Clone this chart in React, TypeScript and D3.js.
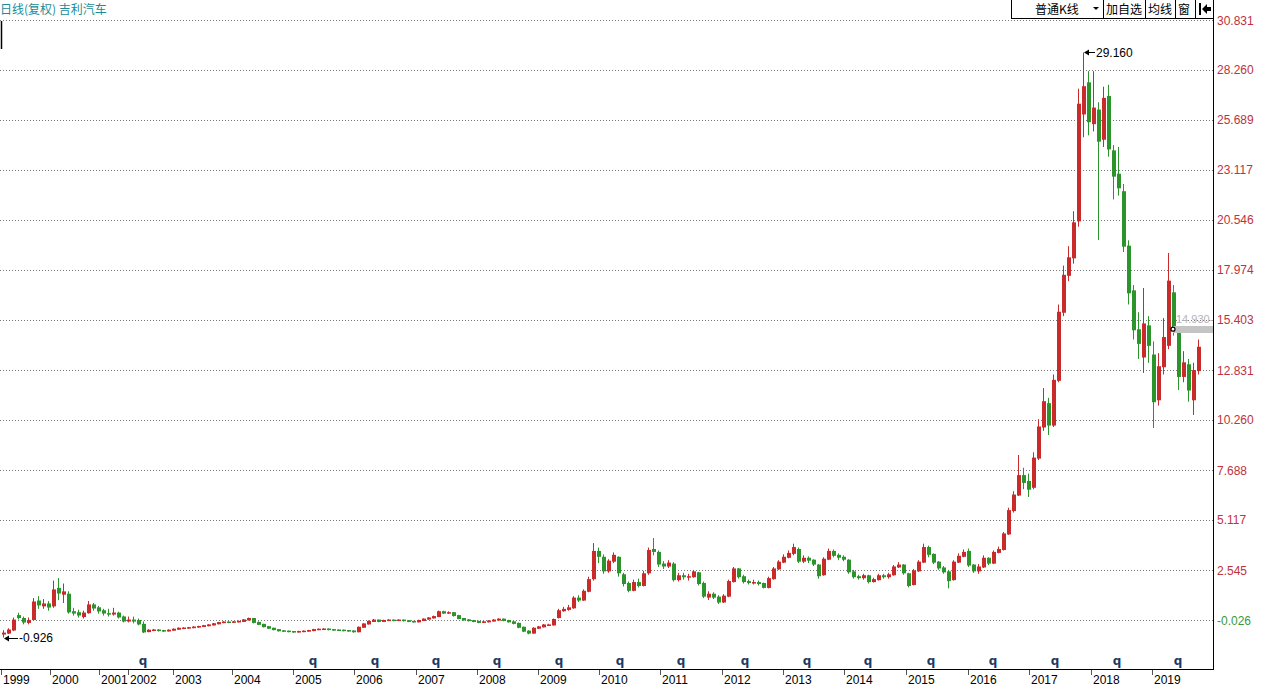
import React from 'react';
import * as d3 from 'd3';

type C = [number, number, number, number]; // open, high, low, close

// 1999 – early 2002
const candlesA: C[] = [
  [-0.75, -0.55, -0.926, -0.70], [-0.70, -0.45, -0.75, -0.54], [-0.54, 0.10, -0.60, -0.03], [0.20, 0.35, 0.00, 0.10],
  [0.05, 0.15, -0.25, -0.13], [-0.15, 0.10, -0.25, -0.05], [0.00, 1.10, -0.05, 0.90], [0.95, 1.20, 0.55, 0.75],
  [0.70, 1.05, 0.55, 0.80], [0.80, 0.95, 0.45, 0.64], [0.70, 2.00, 0.60, 1.52], [1.60, 2.13, 1.00, 1.36],
  [1.30, 1.85, 0.85, 1.42], [1.30, 1.45, 0.30, 0.39], [0.40, 0.60, 0.20, 0.33], [0.35, 0.50, 0.10, 0.23],
  [0.15, 0.45, 0.05, 0.33], [0.35, 0.95, 0.30, 0.75], [0.75, 0.85, 0.45, 0.59], [0.60, 0.70, 0.30, 0.44],
  [0.45, 0.55, 0.20, 0.33], [0.30, 0.55, 0.15, 0.28], [0.28, 0.60, 0.20, 0.33], [0.33, 0.40, 0.05, 0.13],
  [0.13, 0.20, -0.15, -0.08], [-0.08, 0.15, -0.15, -0.03], [-0.03, 0.15, -0.20, -0.08], [-0.05, 0.05, -0.30, -0.23],
  [-0.25, -0.10, -0.70, -0.64],
];

// 2002 – 2006
const candlesB: C[] = [
  [-0.62, -0.50, -0.66, -0.55], [-0.55, -0.49, -0.60, -0.54], [-0.54, -0.50, -0.62, -0.57], [-0.57, -0.53, -0.64, -0.59],
  [-0.59, -0.51, -0.62, -0.55], [-0.55, -0.46, -0.58, -0.50], [-0.50, -0.41, -0.53, -0.45], [-0.45, -0.40, -0.49, -0.44],
  [-0.44, -0.38, -0.47, -0.42], [-0.42, -0.35, -0.45, -0.39], [-0.39, -0.32, -0.42, -0.36], [-0.36, -0.28, -0.39, -0.32],
  [-0.32, -0.24, -0.35, -0.28], [-0.28, -0.18, -0.31, -0.22], [-0.22, -0.12, -0.25, -0.16], [-0.16, -0.09, -0.19, -0.13],
  [-0.13, -0.09, -0.19, -0.14], [-0.14, -0.08, -0.18, -0.12], [-0.12, -0.05, -0.15, -0.10], [-0.10, 0.02, -0.13, -0.02],
  [-0.02, 0.10, -0.05, 0.05], [0.05, 0.08, -0.20, -0.15], [-0.15, -0.10, -0.29, -0.25], [-0.25, -0.22, -0.41, -0.37],
  [-0.37, -0.34, -0.49, -0.45], [-0.45, -0.42, -0.56, -0.52], [-0.52, -0.49, -0.62, -0.58], [-0.58, -0.55, -0.64, -0.60],
  [-0.60, -0.57, -0.66, -0.62], [-0.62, -0.59, -0.68, -0.64], [-0.64, -0.58, -0.67, -0.62], [-0.62, -0.56, -0.65, -0.60],
  [-0.60, -0.53, -0.63, -0.57], [-0.57, -0.48, -0.60, -0.52], [-0.52, -0.46, -0.55, -0.50], [-0.50, -0.45, -0.53, -0.49],
  [-0.49, -0.46, -0.56, -0.52], [-0.52, -0.49, -0.58, -0.54], [-0.54, -0.51, -0.59, -0.55], [-0.55, -0.52, -0.61, -0.57],
  [-0.57, -0.54, -0.63, -0.59], [-0.59, -0.56, -0.68, -0.63],
];

// 2006 – 2009
const candlesC: C[] = [
  [-0.63, -0.36, -0.66, -0.40], [-0.40, -0.19, -0.43, -0.23], [-0.23, -0.05, -0.26, -0.10], [-0.10, 0.03, -0.13, -0.03],
  [-0.03, 0.00, -0.14, -0.10], [-0.10, -0.01, -0.13, -0.05], [-0.05, 0.02, -0.08, -0.03], [-0.03, 0.00, -0.09, -0.05],
  [-0.05, 0.01, -0.08, -0.03], [-0.03, 0.00, -0.10, -0.06], [-0.06, -0.03, -0.14, -0.10], [-0.10, -0.07, -0.16, -0.12],
  [-0.12, -0.01, -0.15, -0.05], [-0.05, 0.06, -0.08, 0.02], [0.02, 0.12, -0.01, 0.08], [0.08, 0.20, 0.05, 0.15],
  [0.15, 0.46, 0.12, 0.40], [0.40, 0.45, 0.28, 0.33], [0.33, 0.42, 0.29, 0.35], [0.35, 0.38, 0.15, 0.20],
  [0.20, 0.24, 0.01, 0.05], [0.05, 0.08, -0.06, -0.02], [-0.02, 0.02, -0.10, -0.06], [-0.06, -0.02, -0.14, -0.10],
  [-0.10, -0.06, -0.19, -0.15], [-0.15, -0.08, -0.18, -0.12], [-0.12, -0.04, -0.15, -0.08], [-0.08, 0.02, -0.11, -0.03],
  [-0.03, 0.06, -0.06, 0.02], [0.02, 0.05, -0.09, -0.05], [-0.05, -0.02, -0.16, -0.12], [-0.12, -0.09, -0.25, -0.20],
  [-0.20, -0.16, -0.45, -0.40], [-0.40, -0.36, -0.65, -0.60], [-0.60, -0.55, -0.76, -0.70], [-0.70, -0.40, -0.73, -0.45],
  [-0.45, -0.33, -0.48, -0.38], [-0.38, -0.24, -0.41, -0.28], [-0.28, -0.22, -0.33, -0.28], [-0.28, 0.05, -0.31, 0.00],
];

// 2009 – 2016
const candlesD: C[] = [
  [0.10, 0.55, 0.05, 0.45], [0.45, 0.65, 0.40, 0.52], [0.52, 0.75, 0.45, 0.60], [0.60, 1.20, 0.55, 1.10],
  [1.10, 1.25, 0.90, 1.00], [1.00, 1.55, 0.95, 1.45], [1.45, 2.20, 1.40, 2.05], [2.10, 3.93, 2.00, 3.50],
  [3.50, 3.70, 2.90, 3.25], [3.20, 3.35, 2.35, 2.50], [2.50, 3.10, 2.40, 3.00], [3.00, 3.45, 2.90, 3.30],
  [3.20, 3.25, 2.20, 2.40], [2.30, 2.40, 1.70, 1.85], [1.85, 1.95, 1.40, 1.50], [1.50, 2.05, 1.45, 1.90],
  [1.90, 2.10, 1.65, 1.75], [1.75, 2.50, 1.70, 2.35], [2.40, 3.70, 2.30, 3.55], [3.60, 4.19, 3.30, 3.50],
  [3.45, 3.55, 2.70, 2.85], [2.85, 3.00, 2.60, 2.75], [2.75, 3.05, 2.65, 2.90], [2.85, 2.95, 1.95, 2.05],
  [2.05, 2.40, 1.95, 2.25], [2.25, 2.40, 2.05, 2.20], [2.20, 2.35, 2.00, 2.20], [2.20, 2.55, 2.15, 2.45],
  [2.40, 2.45, 1.75, 1.85], [1.85, 1.95, 1.10, 1.20], [1.15, 1.45, 1.00, 1.30], [1.30, 1.40, 1.05, 1.15],
  [1.15, 1.25, 0.80, 0.90], [0.90, 1.30, 0.85, 1.20], [1.20, 2.05, 1.15, 1.95], [1.95, 2.70, 1.90, 2.60],
  [2.60, 2.65, 2.10, 2.20], [2.20, 2.30, 1.85, 1.95], [1.95, 2.05, 1.80, 1.90], [1.90, 2.05, 1.80, 1.90],
  [1.90, 2.00, 1.75, 1.85], [1.85, 1.90, 1.60, 1.65], [1.65, 2.20, 1.60, 2.10], [2.10, 2.70, 2.05, 2.60],
  [2.60, 3.05, 2.55, 2.95], [2.95, 3.35, 2.90, 3.20], [3.20, 3.55, 3.15, 3.40], [3.40, 3.90, 3.30, 3.70],
  [3.60, 3.70, 2.90, 3.00], [3.00, 3.30, 2.90, 3.15], [3.15, 3.25, 2.90, 3.05], [3.05, 3.10, 2.75, 2.85],
  [2.80, 2.85, 2.10, 2.25], [2.30, 3.20, 2.25, 3.10], [3.10, 3.65, 3.05, 3.50], [3.50, 3.60, 3.20, 3.30],
  [3.30, 3.40, 3.05, 3.20], [3.20, 3.30, 3.00, 3.10], [3.05, 3.10, 2.35, 2.45], [2.45, 2.55, 2.10, 2.20],
  [2.20, 2.30, 2.05, 2.15], [2.15, 2.35, 2.05, 2.25], [2.25, 2.30, 1.85, 1.95], [1.95, 2.15, 1.90, 2.05],
  [2.05, 2.35, 2.00, 2.25], [2.25, 2.35, 2.10, 2.20], [2.20, 2.40, 2.10, 2.30], [2.30, 2.80, 2.25, 2.70],
  [2.70, 2.95, 2.65, 2.80], [2.80, 2.85, 2.30, 2.40], [2.35, 2.40, 1.65, 1.75], [1.80, 2.60, 1.75, 2.50],
  [2.50, 3.05, 2.45, 2.95], [2.95, 3.90, 2.90, 3.70], [3.70, 3.80, 3.20, 3.35], [3.35, 3.40, 2.85, 2.95],
  [2.95, 3.00, 2.55, 2.65], [2.65, 2.75, 2.35, 2.45], [2.45, 2.55, 1.60, 2.00], [2.05, 3.05, 2.00, 2.95],
  [2.95, 3.40, 2.90, 3.25], [3.25, 3.60, 3.20, 3.45], [3.50, 3.65, 2.70, 2.80], [2.80, 2.85, 2.40, 2.50],
  [2.50, 2.85, 2.35, 2.70],
];

// 2016 – 2019
const candlesE: C[] = [
  [2.70, 3.30, 2.65, 3.15], [3.15, 3.20, 2.80, 2.90], [2.90, 3.55, 2.85, 3.45], [3.45, 3.75, 3.40, 3.60],
  [3.60, 4.50, 3.55, 4.40], [4.40, 5.75, 4.35, 5.60], [5.60, 6.60, 5.50, 6.40], [6.40, 8.46, 6.35, 7.40],
  [7.40, 7.80, 6.70, 7.05], [7.10, 7.50, 6.30, 6.70], [6.80, 8.60, 6.70, 8.30], [8.30, 10.30, 8.20, 9.90],
  [9.90, 11.90, 9.70, 11.20], [11.10, 11.40, 9.49, 10.00], [10.00, 12.60, 9.90, 12.30], [12.30, 16.20, 12.20, 15.80],
  [15.80, 18.20, 15.60, 17.70], [17.70, 19.20, 17.40, 18.60], [18.60, 21.00, 18.30, 20.40], [20.50, 27.30, 20.20, 26.50],
  [26.00, 29.16, 24.80, 27.40], [27.60, 28.20, 24.90, 25.60], [25.50, 28.20, 25.10, 26.30], [26.20, 26.60, 19.52, 24.60],
  [24.70, 27.40, 24.30, 26.80], [26.90, 27.50, 23.80, 24.20], [24.10, 24.40, 21.60, 22.80], [22.90, 24.30, 21.80, 22.20],
  [22.00, 22.40, 18.90, 19.20], [19.20, 19.50, 16.20, 16.80], [16.90, 17.20, 14.40, 14.90], [14.90, 15.80, 13.40, 14.20],
  [13.50, 17.05, 12.68, 15.20], [15.10, 15.60, 13.20, 14.10], [13.60, 14.30, 9.85, 11.20], [11.30, 13.70, 11.00, 13.00],
  [13.00, 15.50, 12.60, 14.50], [14.10, 18.85, 13.90, 17.40], [16.80, 17.20, 14.60, 14.93], [14.90, 14.95, 11.80, 12.50],
  [12.50, 13.80, 12.20, 13.20], [13.10, 13.40, 11.20, 11.80], [11.30, 13.20, 10.52, 12.80], [12.80, 14.40, 12.60, 14.00],
];

const candles: C[] = [...candlesA, ...candlesB, ...candlesC, ...candlesD, ...candlesE];

const yearLabels = ['1999', '2000', '2001', '2002', '2003', '2004', '2005', '2006', '2007', '2008', '2009',
  '2010', '2011', '2012', '2013', '2014', '2015', '2016', '2017', '2018', '2019'];
const yearPos = [-0.4, 9.4, 19.2, 25, 34, 45.8, 58, 70.2, 82.6, 94.8, 107, 119.2, 131.4, 143.8, 156,
  168.2, 180.6, 193, 205.2, 217.6, 229.8];
const qPos = [28, 62, 74.4, 86.6, 98.8, 111.2, 123.4, 135.6, 148.4, 160.8, 173, 185.6, 198, 210.4, 222.8, 235];
const yTicks = [-0.026, 2.545, 5.117, 7.688, 10.26, 12.831, 15.403, 17.974, 20.546, 23.117, 25.689, 28.26, 30.831];
const markIndex = 234;

const UP = '#c92a2a';
const DOWN = '#2b942b';
const LATIN = "'Liberation Sans', Arial, 'Noto Sans CJK SC', sans-serif";
const CJK = "'Noto Sans CJK SC', 'Liberation Sans', sans-serif";

export default function App() {
  const axisX = 1213.5;
  const axisY = 669.5;
  const sx = d3.scaleLinear().domain([0, candles.length - 1]).range([3, 1198]);
  const sy = d3.scaleLinear().domain([yTicks[0], yTicks[yTicks.length - 1]]).range([620, 20]);

  const maxIdx = d3.maxIndex(candles, (d) => d[1]);
  const minIdx = d3.minIndex(candles, (d) => d[2]);
  const maxV = candles[maxIdx][1];
  const minV = candles[minIdx][2];
  const mark = candles[markIndex];

  const crisp = (v: number) => Math.round(v) + 0.5;
  const step = sx(1) - sx(0);

  return (
    <svg width={1261} height={687} style={{ position: 'absolute', left: 0, top: 0, background: '#fff' }}
      fontFamily={LATIN}>
      <rect x={0} y={0} width={1261} height={687} fill="#fff" />
      {/* grid */}
      {yTicks.map((t) => (
        <line key={'g' + t} x1={0} x2={axisX} y1={crisp(sy(t))} y2={crisp(sy(t))}
          stroke="#7a7a7a" strokeDasharray="1 2" strokeWidth={1} />
      ))}
      {/* candles */}
      {candles.map((d, i) => {
        const [o, h, l, c] = d;
        const col = c >= o ? UP : DOWN;
        const x = Math.round(sx(i));
        const top = sy(Math.max(o, c));
        const bot = sy(Math.min(o, c));
        const hi = Math.min(sy(h), top - 0.5);
        const lo = Math.max(sy(l), bot + 0.5);
        return (
          <g key={i}>
            <line x1={x + 0.5} x2={x + 0.5} y1={hi} y2={lo} stroke={col} strokeWidth={1} />
            <rect x={x - 1} y={top - 0.5} width={step - 1} height={Math.max(1.5, bot - top + 1)} fill={col} />
          </g>
        );
      })}
      {/* max annotation */}
      <g>
        <line x1={sx(maxIdx) + 3} x2={sx(maxIdx) + 12} y1={crisp(sy(maxV))} y2={crisp(sy(maxV))} stroke="#000" />
        <path d={`M${sx(maxIdx) + 1},${crisp(sy(maxV))} l5,-3 l0,6 z`} fill="#000" />
        <text x={sx(maxIdx) + 13} y={sy(maxV) + 4.5} fontSize={12} fill="#000">{maxV.toFixed(3)}</text>
      </g>
      {/* min annotation */}
      <g>
        <line x1={sx(minIdx) + 3} x2={sx(minIdx) + 15} y1={crisp(sy(minV))} y2={crisp(sy(minV))} stroke="#000" />
        <path d={`M${sx(minIdx) + 1},${crisp(sy(minV))} l5,-3 l0,6 z`} fill="#000" />
        <text x={sx(minIdx) + 16} y={sy(minV) + 4.5} fontSize={12} fill="#000">{minV.toFixed(3)}</text>
      </g>
      {/* marked price */}
      <rect x={Math.round(sx(markIndex))} y={Math.round(sy(mark[3])) - 3} width={axisX - Math.round(sx(markIndex))} height={7} fill="#c4c4c4" />
      <text x={sx(markIndex) + 3} y={sy(mark[3]) - 6} fontSize={11} fill="#b4b4b4">{mark[3].toFixed(3)}-</text>
      <circle cx={sx(markIndex)} cy={sy(mark[3])} r={2} fill="#fff" stroke="#000" strokeWidth={1.2} />
      {/* q markers */}
      {qPos.map((p, i) => (
        <text key={'q' + i} x={sx(p)} y={665} fontSize={12} fontWeight="bold" fill="#1d3a66" textAnchor="middle"
          fontFamily="'DejaVu Sans', sans-serif">q</text>
      ))}
      {/* axes */}
      <line x1={0} x2={axisX} y1={axisY} y2={axisY} stroke="#000" />
      <line x1={axisX} x2={axisX} y1={0} y2={670} stroke="#000" />
      {yearPos.map((p, i) => (
        <g key={'y' + i}>
          <line x1={crisp(sx(p))} x2={crisp(sx(p))} y1={670} y2={675} stroke="#555" />
          <text x={sx(p) + 2} y={684} fontSize={12} fill="#000">{yearLabels[i]}</text>
        </g>
      ))}
      {yTicks.map((t) => (
        <text key={'l' + t} x={1217} y={sy(t) + 4.5} fontSize={12} fill={t < 0 ? '#3a9a3a' : '#c0323c'}>
          {t.toFixed(3)}
        </text>
      ))}
      {/* title */}
      <text x={0} y={14} fontSize={12} fill="#1a8c98" fontFamily={CJK}>日线(复权) 吉利汽车</text>
      <line x1={1.5} x2={1.5} y1={21} y2={49} stroke="#000" strokeWidth={1.5} />
      {/* toolbar */}
      <g>
        <rect x={1011.5} y={-0.5} width={202} height={19} fill="#fff" stroke="#000" />
        {[1103.5, 1145.5, 1175.5, 1195.5].map((x) => (
          <line key={'s' + x} x1={x} x2={x} y1={0} y2={18} stroke="#000" />
        ))}
        <text x={1035} y={14} fontSize={12} fill="#000" fontFamily={CJK}>普通K线</text>
        <path d="M1093,7 L1099,7 L1096,10 z" fill="#000" />
        <text x={1106} y={14} fontSize={12} fill="#000" fontFamily={CJK}>加自选</text>
        <text x={1148} y={14} fontSize={12} fill="#000" fontFamily={CJK}>均线</text>
        <text x={1178} y={14} fontSize={12} fill="#000" fontFamily={CJK}>窗</text>
        <rect x={1199} y={3} width={2} height={12} fill="#000" />
        <path d="M1202,9 L1207,4 L1207,7 L1211,7 L1211,11 L1207,11 L1207,14 z" fill="#000" />
      </g>
    </svg>
  );
}
